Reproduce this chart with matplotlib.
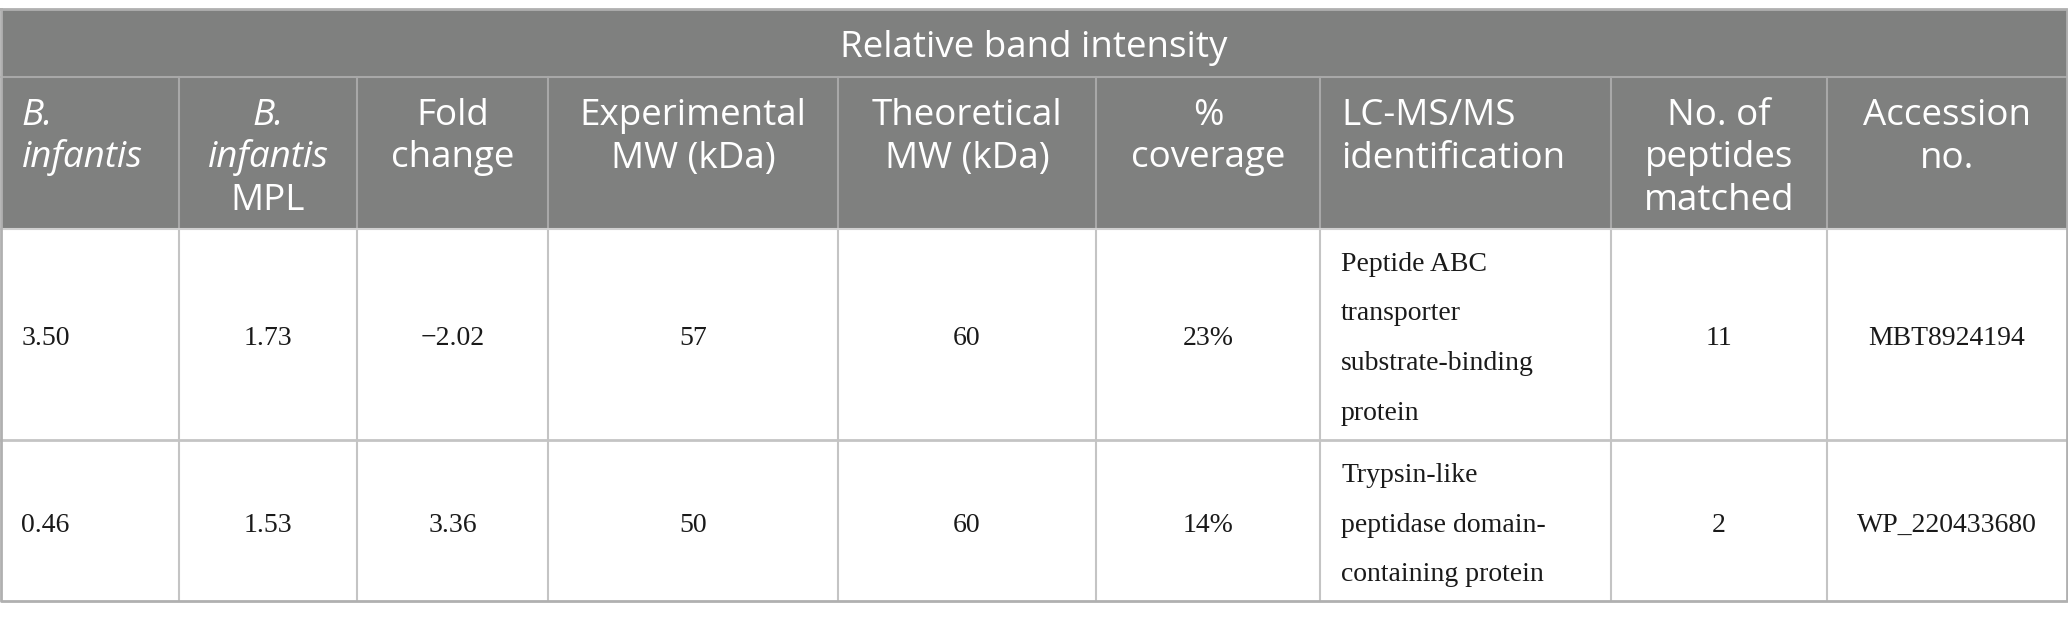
import matplotlib
matplotlib.use("Agg")
import matplotlib.pyplot as plt
from matplotlib.patches import Rectangle

# ---------------- data ----------------
group_title = "Relative band intensity"
header_lines = [
    [("B.", True), ("infantis", True)],
    [("B.", True), ("infantis", True), ("MPL", False)],
    [("Fold", False), ("change", False)],
    [("Experimental", False), ("MW (kDa)", False)],
    [("Theoretical", False), ("MW (kDa)", False)],
    [("%", False), ("coverage", False)],
    [("LC-MS/MS", False), ("identification", False)],
    [("No. of", False), ("peptides", False), ("matched", False)],
    [("Accession", False), ("no.", False)],
]
b_infantis = ["3.50", "0.46"]
b_infantis_mpl = ["1.73", "1.53"]
fold_change = ["\u22122.02", "3.36"]
experimental_mw = ["57", "50"]
theoretical_mw = ["60", "60"]
coverage = ["23%", "14%"]
identification = [
    ["Peptide ABC", "transporter", "substrate-binding", "protein"],
    ["Trypsin-like", "peptidase domain-", "containing protein"],
]
peptides_matched = ["11", "2"]
accession = ["MBT8924194", "WP_220433680"]

# ---------------- layout ----------------
W, H = 2068, 618
col_edges = [0.5, 179, 357, 548, 838, 1096, 1320, 1611, 1827, 2066.5]
row_edges = [8.5, 77, 228.5, 440, 601]
col_align = ["left", "center", "center", "center", "center", "center", "left", "center", "center"]
pad = 21

header_fill = "#7f807f"
header_line = "#a8a8a8"
body_line = "#c4c4c4"
outer_line = "#b0b0b0"
body_color = "#1a1a1a"

head_font = "Open Sans"
body_font = "Liberation Serif"
head_size = 26.5
body_size = 20

fig = plt.figure(figsize=(W / 100, H / 100), dpi=100)
ax = fig.add_axes([0, 0, 1, 1])
ax.set_xlim(0, W)
ax.set_ylim(H, 0)
ax.axis("off")

# header background
ax.add_patch(Rectangle((col_edges[0], row_edges[0]), col_edges[-1] - col_edges[0],
                       row_edges[2] - row_edges[0], facecolor=header_fill, edgecolor="none", zorder=1))

# header lines
ax.plot([col_edges[0], col_edges[-1]], [row_edges[1]] * 2, color=header_line, lw=1.5, zorder=2)
for x in col_edges[1:-1]:
    ax.plot([x, x], [row_edges[1], row_edges[2]], color=header_line, lw=1.5, zorder=2)
# body lines
for x in col_edges[1:-1]:
    ax.plot([x, x], [row_edges[2], row_edges[-1]], color=body_line, lw=1.5, zorder=2)
ax.plot([col_edges[0], col_edges[-1]], [row_edges[3]] * 2, color=body_line, lw=2, zorder=2)
ax.plot([col_edges[0], col_edges[-1]], [row_edges[2]] * 2, color="#d0d0d0", lw=1.5, zorder=2)
# outer border
ax.plot([col_edges[0], col_edges[-1], col_edges[-1], col_edges[0], col_edges[0]],
        [row_edges[0], row_edges[0], row_edges[-1], row_edges[-1], row_edges[0]],
        color=outer_line, lw=2, zorder=3)

# group title
ax.text((col_edges[0] + col_edges[-1]) / 2, (row_edges[0] + row_edges[1]) / 2 + 14,
        group_title, ha="center", va="baseline", color="white",
        fontsize=head_size, family=head_font, zorder=4)


def xpos(ci):
    if col_align[ci] == "left":
        return col_edges[ci] + pad
    return (col_edges[ci] + col_edges[ci + 1]) / 2


# column headers
base0 = 125
head_step = 42.5
for ci, lines in enumerate(header_lines):
    for li, (txt, ital) in enumerate(lines):
        ax.text(xpos(ci), base0 + li * head_step, txt, ha=col_align[ci], va="baseline",
                color="white", fontsize=head_size, family=head_font,
                style="italic" if ital else "normal", zorder=4)

# body
columns = [b_infantis, b_infantis_mpl, fold_change, experimental_mw, theoretical_mw,
           coverage, identification, peptides_matched, accession]
body_step = 49.7
for ri in range(2):
    top, bot = row_edges[2 + ri], row_edges[3 + ri]
    mid = (top + bot) / 2 + 11
    for ci, col in enumerate(columns):
        val = col[ri]
        lines = val if isinstance(val, list) else [val]
        n = len(lines)
        for li, txt in enumerate(lines):
            y = mid + (li - (n - 1) / 2) * body_step
            ax.text(xpos(ci), y, txt, ha=col_align[ci], va="baseline", color=body_color,
                    fontsize=body_size, family=body_font, zorder=4)

fig.savefig("out.png", dpi=100, facecolor="white")
